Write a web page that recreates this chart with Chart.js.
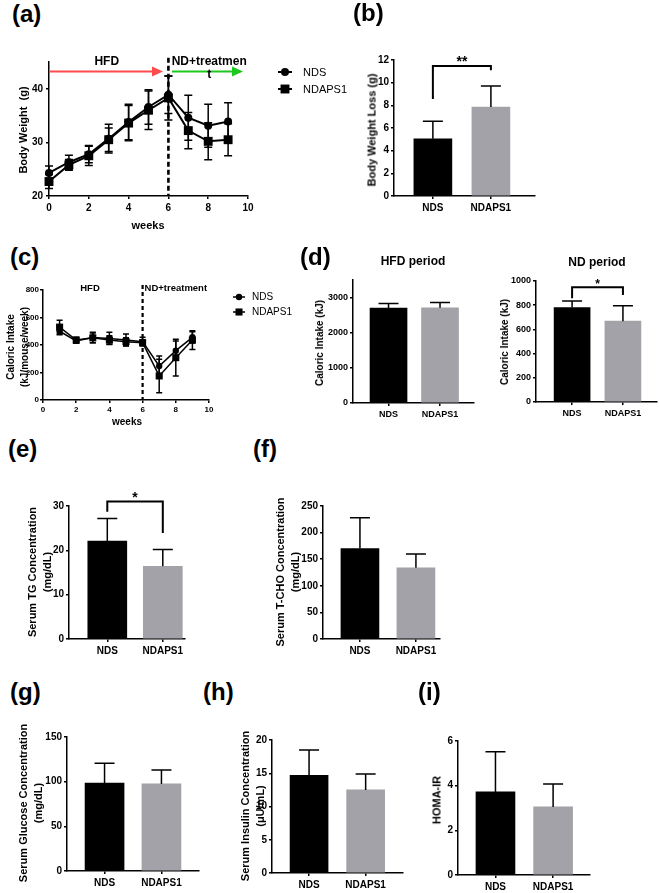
<!DOCTYPE html>
<html>
<head>
<meta charset="utf-8">
<script src="https://cdn.jsdelivr.net/npm/chart.js@4.4.1/dist/chart.umd.min.js"></script>
<style>
  body { margin: 0; background: #fff; width: 660px; height: 893px; position: relative; overflow: hidden; }
</style>
</head>
<body>
<script>
const FONT = '"Liberation Sans", Arial, Helvetica, sans-serif';

// ---- data ----
const groups = ['NDS', 'NDAPS1'];
const barColors = ['#000000', '#a2a2a8'];

// (a) body weight
const weightWeeks = [0, 1, 2, 3, 4, 5, 6, 7, 8, 9];
const ndsWeight = [24.3, 26.3, 27.8, 30.7, 33.8, 36.6, 38.9, 34.6, 33.1, 33.9];
const ndsWeightSd = [1.3, 1.3, 1.6, 2.7, 3.3, 3.2, 3.5, 4.2, 4.0, 3.5];
const ndaps1Weight = [22.7, 25.8, 27.5, 30.5, 33.6, 36.0, 38.3, 32.2, 30.2, 30.5];
const ndaps1WeightSd = [1.3, 1.0, 1.8, 2.2, 3.3, 3.6, 4.1, 3.4, 3.45, 3.0];
const weightTicks = [20, 30, 40];
const weekTicks = [0, 2, 4, 6, 8, 10];

// (b) body weight loss
const lossMean = [5.05, 7.85];
const lossSd = [1.55, 1.85];
const lossTicks = [0, 2, 4, 6, 8, 10, 12];

// (c) weekly caloric intake
const intakeWeeks = [1, 2, 3, 4, 5, 6, 7, 8, 9];
const ndsIntake = [500, 430, 455, 448, 436, 424, 247, 359, 456];
const ndsIntakeSd = [25, 18, 38, 44, 44, 32, 73, 70, 41];
const ndaps1Intake = [530, 436, 452, 436, 424, 417, 175, 308, 436];
const ndaps1IntakeSd = [50, 20, 35, 31, 29, 17, 122, 133, 68];
const intakeTicks = [0, 200, 400, 600, 800];

// (d) caloric intake per period
const hfdMean = [2700, 2710];
const hfdSd = [130, 150];
const hfdTicks = [0, 1000, 2000, 3000];
const ndMean = [780, 668];
const ndSd = [55, 127];
const ndTicks = [0, 200, 400, 600, 800, 1000];

// (e)-(i) serum values
const tgMean = [22.1, 16.4];
const tgSd = [5.1, 3.8];
const tgTicks = [0, 10, 20, 30];
const tchoMean = [170, 134];
const tchoSd = [58, 26];
const tchoTicks = [0, 50, 100, 150, 200, 250];
const glucoseMean = [98.5, 97.5];
const glucoseSd = [22, 15.5];
const glucoseTicks = [0, 50, 100, 150];
const insulinMean = [14.7, 12.5];
const insulinSd = [3.8, 2.4];
const insulinTicks = [0, 5, 10, 15, 20];
const homaMean = [3.72, 3.05];
const homaSd = [1.8, 1.03];
const homaTicks = [0, 2, 4, 6];

// ---- helpers ----
function text(str, x, y, size, o) {
  o = o || {};
  const d = document.createElement('div');
  d.textContent = str;
  const tf = o.left ? 'translate(0,-50%)' : 'translate(-50%,-50%)' + (o.rot ? ' rotate(-90deg)' : '');
  d.style.cssText = 'position:absolute;left:' + x + 'px;top:' + y + 'px;font:' + (o.normal ? 'normal' : 'bold') +
    ' ' + size + 'px ' + FONT + ';white-space:pre;line-height:1;color:#000;transform:' + tf;
  document.body.appendChild(d);
}

function axis(min, max, ticks, size, label, pad) {
  return {
    type: 'linear', min: min, max: max, offset: false,
    afterBuildTicks: s => { s.ticks = ticks.map(v => ({ value: v })); },
    grid: { drawOnChartArea: false, offset: false, tickLength: 3, color: '#000', lineWidth: 1.5 },
    border: { color: '#000', width: 1.5 },
    ticks: {
      color: '#000', padding: pad === undefined ? 2 : pad, autoSkip: false, maxRotation: 0,
      font: { family: FONT, size: size, weight: 'bold' },
      callback: label || (v => String(v))
    }
  };
}

// rect = [left, top, right, bottom] of the plot area on the page; pad = [L, T, R, B]
function place(rect, pad, config) {
  const [L, T, R, B] = pad;
  const div = document.createElement('div');
  div.style.cssText = 'position:absolute;left:' + (rect[0] - L) + 'px;top:' + (rect[1] - T) + 'px;width:' +
    (rect[2] - rect[0] + L + R) + 'px;height:' + (rect[3] - rect[1] + T + B) + 'px';
  const cv = document.createElement('canvas');
  div.appendChild(cv);
  document.body.appendChild(div);
  const o = config.options;
  o.responsive = true;
  o.maintainAspectRatio = false;
  o.animation = false;
  o.layout = { padding: { left: 0, top: T, right: R, bottom: 0 } };
  o.scales.x.afterFit = s => { s.height = B; };
  o.scales.y.afterFit = s => { s.width = L; };
  o.plugins = { legend: { display: false }, tooltip: { enabled: false } };
  return new Chart(cv, config);
}

function barErrors(sds, cap) {
  return {
    id: 'barErr',
    afterDatasetsDraw(chart) {
      const ctx = chart.ctx, ys = chart.scales.y;
      const ds = chart.data.datasets[0];
      ctx.save();
      ctx.strokeStyle = '#000';
      ctx.lineWidth = 1.5;
      chart.getDatasetMeta(0).data.forEach((bar, i) => {
        const top = ys.getPixelForValue(ds.data[i].y + sds[i]);
        ctx.beginPath();
        ctx.moveTo(bar.x, bar.y);
        ctx.lineTo(bar.x, top);
        ctx.moveTo(bar.x - cap / 2, top);
        ctx.lineTo(bar.x + cap / 2, top);
        ctx.stroke();
      });
      ctx.restore();
    }
  };
}

function lineErrors(sds, cap) {
  return {
    id: 'lineErr',
    beforeDatasetsDraw(chart) {
      const ctx = chart.ctx, ys = chart.scales.y;
      ctx.save();
      ctx.strokeStyle = '#000';
      ctx.lineWidth = 1.5;
      chart.data.datasets.forEach((ds, k) => {
        chart.getDatasetMeta(k).data.forEach((pt, i) => {
          const v = ds.data[i].y;
          const hi = ys.getPixelForValue(v + sds[k][i]), lo = ys.getPixelForValue(v - sds[k][i]);
          ctx.beginPath();
          ctx.moveTo(pt.x, hi); ctx.lineTo(pt.x, lo);
          ctx.moveTo(pt.x - cap / 2, hi); ctx.lineTo(pt.x + cap / 2, hi);
          ctx.moveTo(pt.x - cap / 2, lo); ctx.lineTo(pt.x + cap / 2, lo);
          ctx.stroke();
        });
      });
      ctx.restore();
    }
  };
}

function bracket(b) {
  return {
    id: 'bracket',
    afterDatasetsDraw(chart) {
      const ctx = chart.ctx, xs = chart.scales.x, ys = chart.scales.y;
      const a = xs.getPixelForValue(1), c = xs.getPixelForValue(2), t = ys.getPixelForValue(b.y);
      ctx.save();
      ctx.strokeStyle = '#000';
      ctx.lineWidth = 2;
      ctx.beginPath();
      ctx.moveTo(a, ys.getPixelForValue(b.yl));
      ctx.lineTo(a, t);
      ctx.lineTo(c, t);
      ctx.lineTo(c, ys.getPixelForValue(b.yr));
      ctx.stroke();
      ctx.fillStyle = '#000';
      ctx.font = 'bold ' + b.size + 'px ' + FONT;
      ctx.textAlign = 'center';
      ctx.fillText(b.text, (a + c) / 2, ys.getPixelForValue(b.ty) + b.size * 0.57);
      ctx.restore();
    }
  };
}

// dashed diet switch line, arrows and phase names
function phases(p) {
  return {
    id: 'phases',
    beforeDatasetsDraw(chart) {
      const ctx = chart.ctx, xs = chart.scales.x, ys = chart.scales.y;
      const sx = xs.getPixelForValue(p.split);
      ctx.save();
      ctx.strokeStyle = '#000';
      ctx.lineWidth = p.dashW;
      ctx.setLineDash(p.dash);
      ctx.beginPath();
      ctx.moveTo(sx, ys.getPixelForValue(p.dashTop));
      ctx.lineTo(sx, chart.chartArea.bottom);
      ctx.stroke();
      ctx.setLineDash([]);
      (p.arrows || []).forEach(a => {
        const x1 = xs.getPixelForValue(a.x1), x2 = xs.getPixelForValue(a.x2), y = ys.getPixelForValue(a.y);
        ctx.strokeStyle = a.color;
        ctx.fillStyle = a.color;
        ctx.lineWidth = 2;
        ctx.beginPath();
        ctx.moveTo(x1, y);
        ctx.lineTo(x2 - 8, y);
        ctx.stroke();
        ctx.beginPath();
        ctx.moveTo(x2, y);
        ctx.lineTo(x2 - 11, y - 5);
        ctx.lineTo(x2 - 11, y + 5);
        ctx.closePath();
        ctx.fill();
      });
      ctx.fillStyle = '#000';
      ctx.textAlign = 'center';
      ctx.textBaseline = 'middle';
      p.texts.forEach(t => {
        ctx.font = 'bold ' + t.size + 'px ' + FONT;
        ctx.fillText(t.text, xs.getPixelForValue(t.x), ys.getPixelForValue(t.y));
      });
      ctx.restore();
    }
  };
}

function drawMarker(ctx, style, x, y, r) {
  ctx.beginPath();
  if (style === 'rect') {
    const h = r * Math.SQRT1_2;
    ctx.rect(x - h, y - h, 2 * h, 2 * h);
  } else {
    ctx.arc(x, y, r, 0, Math.PI * 2);
  }
  ctx.fill();
}

function seriesKey(k) {
  return {
    id: 'seriesKey',
    afterDraw(chart) {
      const ctx = chart.ctx, ca = chart.chartArea;
      ctx.save();
      chart.data.datasets.forEach((ds, i) => {
        const y = ca.top + k.ys[i];
        const x1 = ca.right + k.x1, x2 = ca.right + k.x2;
        ctx.strokeStyle = '#000';
        ctx.fillStyle = '#000';
        ctx.lineWidth = ds.borderWidth;
        ctx.beginPath();
        ctx.moveTo(x1, y);
        ctx.lineTo(x2, y);
        ctx.stroke();
        drawMarker(ctx, ds.pointStyle, (x1 + x2) / 2, y, ds.pointRadius);
        ctx.font = k.size + 'px ' + FONT;
        ctx.textBaseline = 'middle';
        ctx.fillText(ds.label, ca.right + k.tx, y + 0.5);
      });
      ctx.restore();
    }
  };
}

function lineSet(label, xs, ys, style, r, w) {
  return {
    label: label,
    data: xs.map((x, i) => ({ x: x, y: ys[i] })),
    borderColor: '#000', backgroundColor: '#000', borderWidth: w,
    pointStyle: style, pointRadius: r, pointBorderWidth: 0,
    pointBackgroundColor: '#000', tension: 0, clip: false
  };
}

function barPanel(rect, xr, yMax, yTicks, mean, sd, size, thick, extra) {
  const plugins = [barErrors(sd, 20)];
  if (extra) plugins.push(bracket(extra));
  return place(rect, [45, 25, 20, 25], {
    type: 'bar',
    data: {
      datasets: [{
        data: mean.map((v, i) => ({ x: i + 1, y: v })),
        backgroundColor: barColors, borderWidth: 0, barThickness: thick
      }]
    },
    options: {
      scales: {
        x: axis(xr[0], xr[1], [1, 2], size, v => groups[v - 1], 3),
        y: axis(0, yMax, yTicks, size)
      }
    },
    plugins: plugins
  });
}

// ---- (a) body weight ----
place([49, 62, 248, 196], [45, 20, 110, 25], {
  type: 'line',
  data: {
    datasets: [
      lineSet('NDS', weightWeeks, ndsWeight, 'circle', 4, 2),
      lineSet('NDAPS1', weightWeeks, ndaps1Weight, 'rect', 6.3, 2)
    ]
  },
  options: {
    scales: { x: axis(0, 10, weekTicks, 10, null, 3), y: axis(20, 45, weightTicks, 10, null, 3) }
  },
  plugins: [
    lineErrors([ndsWeightSd, ndaps1WeightSd], 8),
    phases({
      split: 6, dashTop: 45.8, dashW: 2.6, dash: [5, 3],
      arrows: [{ x1: 0, x2: 5.73, y: 43.25, color: '#ff4b4b' }, { x1: 6.18, x2: 9.75, y: 43.25, color: '#1ec81e' }],
      texts: [
        { text: 'HFD', x: 2.9, y: 45.1, size: 12 },
        { text: 'ND+treatmen', x: 8.05, y: 45.0, size: 12 },
        { text: 't', x: 8.05, y: 42.7, size: 12 }
      ]
    }),
    seriesKey({ x1: 30, x2: 44, tx: 55, ys: [10, 27], size: 11 })
  ]
});

// ---- (b) body weight loss ----
barPanel([394, 60, 535, 196], [0.33, 2.76], 12, lossTicks, lossMean, lossSd, 10, 38,
  { y: 11.47, yl: 8.56, yr: 11.1, text: '**', ty: 12.2, size: 14 });

// ---- (c) caloric intake per week ----
place([43, 290, 209, 400], [40, 15, 100, 25], {
  type: 'line',
  data: {
    datasets: [
      lineSet('NDS', intakeWeeks, ndsIntake, 'circle', 3.2, 1.5),
      lineSet('NDAPS1', intakeWeeks, ndaps1Intake, 'rect', 5, 1.5)
    ]
  },
  options: {
    scales: { x: axis(0, 10, weekTicks, 8, null, 2), y: axis(0, 800, intakeTicks, 8, null, 1) }
  },
  plugins: [
    lineErrors([ndsIntakeSd, ndaps1IntakeSd], 6),
    phases({
      split: 6, dashTop: 836, dashW: 2.2, dash: [4, 3],
      texts: [
        { text: 'HFD', x: 2.83, y: 811, size: 9.5 },
        { text: 'ND+treatment', x: 8.0, y: 811, size: 9.5 }
      ]
    }),
    seriesKey({ x1: 24, x2: 36, tx: 43, ys: [7, 22], size: 10 })
  ]
});

// ---- (d) caloric intake per period ----
barPanel([353, 280, 474, 403], [0.31, 2.66], 3500, hfdTicks, hfdMean, hfdSd, 9, 37);
barPanel([536, 281, 657, 402], [0.29, 2.67], 1000, ndTicks, ndMean, ndSd, 9, 36,
  { y: 948, yl: 857, yr: 885, text: '*', ty: 997, size: 12 });

// ---- (e) TG ----
barPanel([69, 506, 185, 639], [0.31, 2.4], 30, tgTicks, tgMean, tgSd, 10, 39,
  { y: 31.0, yl: 28.7, yr: 23.9, text: '*', ty: 32.8, size: 14 });

// ---- (f) T-CHO ----
barPanel([323, 506, 440, 639], [0.34, 2.43], 250, tchoTicks, tchoMean, tchoSd, 10, 38);

// ---- (g) glucose ----
barPanel([67, 737, 199, 871], [0.34, 2.66], 150, glucoseTicks, glucoseMean, glucoseSd, 10, 39);

// ---- (h) insulin ----
barPanel([272, 740, 403, 873], [0.345, 2.66], 20, insulinTicks, insulinMean, insulinSd, 10, 38);

// ---- (i) HOMA-IR ----
barPanel([458, 741, 590, 875], [0.35, 2.64], 6, homaTicks, homaMean, homaSd, 10, 39);

// ---- panel letters, axis titles ----
[['(a)', 12, 14], ['(b)', 353, 13], ['(c)', 10, 257], ['(d)', 300, 257], ['(e)', 8, 449],
 ['(f)', 253, 449], ['(g)', 10, 692], ['(h)', 203, 692], ['(i)', 418, 692]]
  .forEach(p => text(p[0], p[1], p[2], 24, { left: true }));

text('Body Weight  (g)', 23, 130, 11, { rot: true });
text('weeks', 148, 225, 11);
text('Body Weight Loss (g)', 372, 130, 11, { rot: true });
text('Caloric Intake', 11, 347, 10, { rot: true });
text('(kJ/mouse/week)', 25, 347, 10, { rot: true });
text('weeks', 127, 422, 10);
text('HFD period', 413, 261, 12);
text('ND period', 597, 262, 12);
text('Caloric Intake (kJ)', 320, 343, 10, { rot: true });
text('Caloric Intake (kJ)', 505, 342, 10, { rot: true });
text('Serum TG Concentration', 32, 572, 11, { rot: true });
text('(mg/dL)', 47, 572, 11, { rot: true });
text('Serum T-CHO Concentration', 280, 572, 11, { rot: true });
text('(mg/dL)', 295, 572, 11, { rot: true });
text('Serum Glucose Concentration', 23, 803, 11, { rot: true });
text('(mg/dL)', 38, 803, 11, { rot: true });
text('Serum Insulin Concentration', 245, 806, 11, { rot: true });
text('(\u03bcU/mL)', 260, 806, 11, { rot: true });
text('HOMA-IR', 437, 800, 11, { rot: true });
</script>
</body>
</html>
